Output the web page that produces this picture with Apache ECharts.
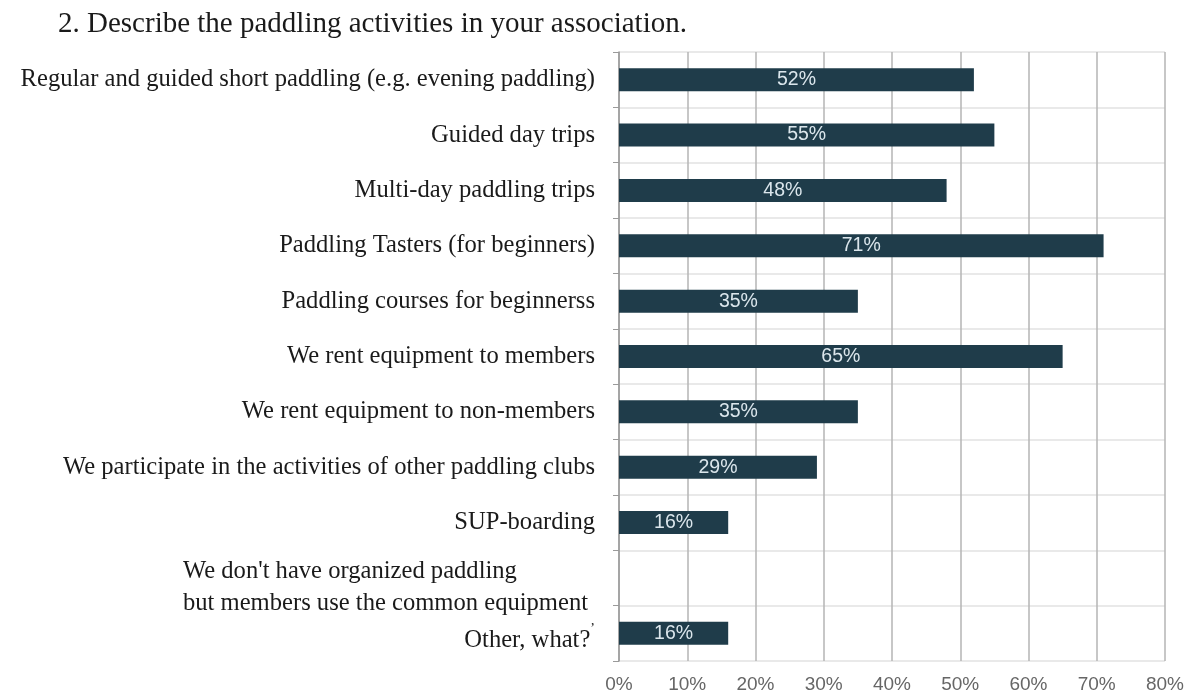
<!DOCTYPE html>
<html>
<head>
<meta charset="utf-8">
<script src="https://cdn.jsdelivr.net/npm/echarts@6/dist/echarts.min.js"></script>
<style>
html,body{margin:0;padding:0;background:#fff;}
#c{width:1194px;height:696px;}
</style>
</head>
<body>
<div id="c"></div>
<script>
const titleText = '2. Describe the paddling activities in your association.';
const categories = [
  'Regular and guided short paddling (e.g. evening paddling)',
  'Guided day trips',
  'Multi-day paddling trips',
  'Paddling Tasters (for beginners)',
  'Paddling courses for beginnerss',
  'We rent equipment to members',
  'We rent equipment to non-members',
  'We participate in the activities of other paddling clubs',
  'SUP-boarding',
  "We don't have organized paddling\nbut members use the common equipment",
  'Other, what?'
];
const values = [52, 55, 48, 71, 35, 65, 35, 29, 16, 0, 16];
const xTicks = [0, 10, 20, 30, 40, 50, 60, 70, 80];

const chart = echarts.init(document.getElementById('c'), null, {renderer: 'canvas'});
chart.setOption({
  animation: false,
  backgroundColor: '#ffffff',
  title: {
    text: titleText,
    left: 53, top: 5,
    textStyle: {fontFamily: '"Liberation Serif", "DejaVu Serif", serif', fontSize: 29, fontWeight: 'normal', color: '#1a1a1a'}
  },
  grid: {left: 619, right: 29, top: 52, bottom: 35, containLabel: false},
  xAxis: {
    type: 'value',
    min: xTicks[0], max: xTicks[xTicks.length - 1], interval: 10,
    axisLine: {show: false},
    axisTick: {show: false},
    splitLine: {show: true, lineStyle: {color: '#b4b4b4', width: 1.5}},
    axisLabel: {
      formatter: v => v + '%',
      fontFamily: '"Liberation Sans", Arial, sans-serif', fontSize: 19, color: '#666', margin: 14
    }
  },
  yAxis: {
    type: 'category',
    data: categories,
    inverse: true,
    axisLine: {show: true, lineStyle: {color: '#9a9a9a', width: 1.5}},
    axisTick: {show: true, length: 6, lineStyle: {color: '#9a9a9a'}},
    splitLine: {show: true, lineStyle: {color: '#e2e2e2', width: 1.5}},
    axisLabel: {
      margin: 24,
      color: '#1a1a1a',
      fontFamily: '"Liberation Serif", "DejaVu Serif", serif',
      fontSize: 24.6,
      formatter: function (v) {
        if (v.indexOf('\n') >= 0) {
          return v.split('\n').map(s => '{ml|' + s + '}').join('\n');
        }
        if (v === 'Other, what?') return '{o|' + v + '}{sup|’}';
        return v;
      },
      rich: {
        ml: {width: 412, align: 'left', fontFamily: '"Liberation Serif", serif', fontSize: 24.6, color: '#1a1a1a', lineHeight: 32, padding: [20, 0, 0, 0]},
        o: {fontFamily: '"Liberation Serif", serif', fontSize: 24.6, color: '#1a1a1a', padding: [14, 0, 0, 0]},
        sup: {fontFamily: '"Liberation Serif", serif', fontSize: 14, color: '#1a1a1a', padding: [0, 0, 8, 0]}
      }
    }
  },
  series: [{
    type: 'bar',
    data: values,
    barWidth: 23,
    itemStyle: {color: '#1f3c4a'},
    label: {
      show: true,
      position: 'inside',
      formatter: p => p.value ? p.value + '%' : '',
      color: '#dbe6ec',
      fontFamily: '"Liberation Sans", Arial, sans-serif',
      fontSize: 19.5
    }
  }]
});
</script>
</body>
</html>
